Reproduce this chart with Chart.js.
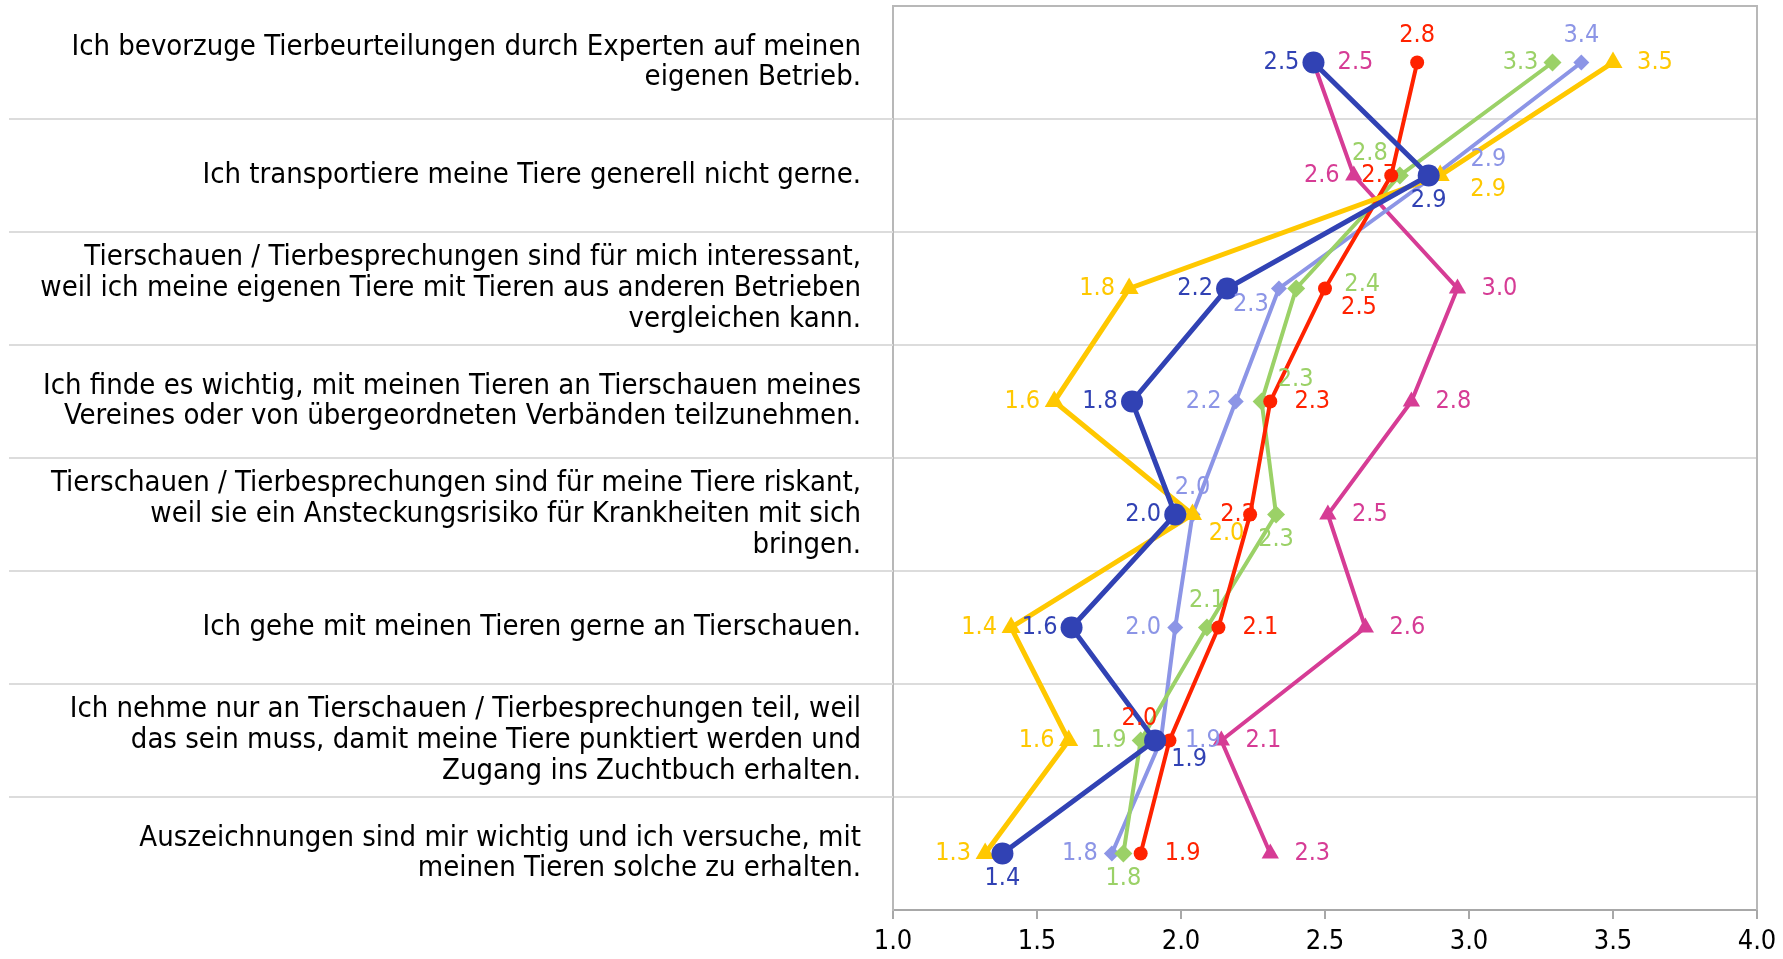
<!DOCTYPE html>
<html>
<head>
<meta charset="utf-8">
<script src="https://cdn.jsdelivr.net/npm/chart.js@4.4.1/dist/chart.umd.min.js"></script>
<style>
  html, body { margin: 0; padding: 0; background: #fff; }
  #wrap { width: 1783px; height: 959px; position: relative; }
</style>
</head>
<body>
<div id="wrap"><canvas id="chart"></canvas></div>
<script>
// statements (one row each, top to bottom)
const categories = [
    ['Ich bevorzuge Tierbeurteilungen durch Experten auf meinen', 'eigenen Betrieb.'],
    ['Ich transportiere meine Tiere generell nicht gerne.'],
    ['Tierschauen / Tierbesprechungen sind für mich interessant,', 'weil ich meine eigenen Tiere mit Tieren aus anderen Betrieben', 'vergleichen kann.'],
    ['Ich finde es wichtig, mit meinen Tieren an Tierschauen meines', 'Vereines oder von übergeordneten Verbänden teilzunehmen.'],
    ['Tierschauen / Tierbesprechungen sind für meine Tiere riskant,', 'weil sie ein Ansteckungsrisiko für Krankheiten mit sich', 'bringen.'],
    ['Ich gehe mit meinen Tieren gerne an Tierschauen.'],
    ['Ich nehme nur an Tierschauen / Tierbesprechungen teil, weil', 'das sein muss, damit meine Tiere punktiert werden und', 'Zugang ins Zuchtbuch erhalten.'],
    ['Auszeichnungen sind mir wichtig und ich versuche, mit', 'meinen Tieren solche zu erhalten.']
];

// mean scores per group
const blueValues     = [2.46, 2.86, 2.16, 1.83, 1.98, 1.62, 1.91, 1.38];
const yellowValues   = [3.50, 2.90, 1.82, 1.56, 2.04, 1.41, 1.61, 1.32];
const redValues      = [2.82, 2.73, 2.50, 2.31, 2.24, 2.13, 1.96, 1.86];
const greenValues    = [3.29, 2.76, 2.40, 2.28, 2.33, 2.09, 1.86, 1.80];
const lavenderValues = [3.39, 2.88, 2.34, 2.19, 2.04, 1.98, 1.93, 1.76];
const magentaValues  = [2.46, 2.60, 2.96, 2.80, 2.51, 2.64, 2.14, 2.31];

// x axis ticks
const xTicks = [1.0, 1.5, 2.0, 2.5, 3.0, 3.5, 4.0];

// where each value label sits relative to its point
const blueLabelPos     = ['W', 'S', 'W', 'W', 'W', 'W', 'SE', 'S'];
const yellowLabelPos   = ['E', 'ESE', 'W', 'W', 'SE', 'W', 'W', 'W'];
const redLabelPos      = ['N', 'w', 'SE', 'E', 'w', 'E', 'NW', 'E'];
const greenLabelPos    = ['W', 'NW', 'EE', 'NE', 'S', 'N', 'W', 'S'];
const lavenderLabelPos = ['N', 'ENE', 'SW', 'W', 'N', 'W', 'E', 'W'];
const magentaLabelPos  = ['E', 'W', 'E', 'E', 'E', 'E', 'E', 'E'];

const FONT = "'DejaVu Sans Condensed', 'DejaVu Sans', sans-serif";

const labelOffsets = {
    E: [42, 0], W: [-32, 0], N: [0, -27], S: [0, 25],
    NE: [34, -22], NW: [-30, -22], SE: [34, 19], SW: [-28, 16],
    ENE: [54, -16], ESE: [48, 14], EE: [66, -4], w: [-12, 0]
};

function series(values, color, style, radius, width, labelPos) {
    return {
        data: values,
        borderColor: color,
        backgroundColor: color,
        borderWidth: width,
        pointStyle: style,
        pointRadius: radius,
        pointBorderWidth: 0,
        pointBackgroundColor: color,
        tension: 0,
        labelPos: labelPos
    };
}

// draw the value labels next to the points
const valueLabels = {
    id: 'valueLabels',
    afterDatasetsDraw(chart) {
        const ctx = chart.ctx;
        ctx.save();
        ctx.font = '25px ' + FONT;
        ctx.textAlign = 'center';
        ctx.textBaseline = 'middle';
        chart.data.datasets.forEach((ds, i) => {
            const meta = chart.getDatasetMeta(i);
            meta.data.forEach((pt, j) => {
                const off = labelOffsets[ds.labelPos[j]];
                ctx.fillStyle = ds.borderColor;
                ctx.fillText(ds.data[j].toFixed(1), pt.x + off[0], pt.y + off[1]);
            });
        });
        ctx.restore();
    }
};

// frame around plot and row separators running into the label column
const frameAndRows = {
    id: 'frameAndRows',
    beforeDatasetsDraw(chart) {
        const ctx = chart.ctx;
        const area = chart.chartArea;
        const y = chart.scales.y;
        ctx.save();
        ctx.strokeStyle = '#dcdcdc';
        ctx.lineWidth = 2;
        for (let i = 0; i < categories.length - 1; i++) {
            const py = Math.round((y.getPixelForTick(i) + y.getPixelForTick(i + 1)) / 2);
            ctx.beginPath();
            ctx.moveTo(9, py);
            ctx.lineTo(area.left, py);
            ctx.stroke();
        }
        ctx.strokeStyle = '#b8b8b8';
        ctx.beginPath();
        ctx.moveTo(area.left, area.top);
        ctx.lineTo(area.right, area.top);
        ctx.lineTo(area.right, area.bottom);
        ctx.stroke();
        ctx.restore();
    }
};

const config = {
    type: 'line',
    data: {
        labels: categories,
        datasets: [
            series(blueValues, '#3142B4', 'circle', 11, 5, blueLabelPos),
            series(yellowValues, '#FFC800', 'triangle', 11, 5, yellowLabelPos),
            series(redValues, '#FF2200', 'circle', 7, 4, redLabelPos),
            series(greenValues, '#9BD167', 'rectRot', 9, 4, greenLabelPos),
            series(lavenderValues, '#8C95E6', 'rectRot', 8, 4, lavenderLabelPos),
            series(magentaValues, '#D63C95', 'triangle', 10, 4, magentaLabelPos)
        ]
    },
    options: {
        indexAxis: 'y',
        responsive: true,
        maintainAspectRatio: false,
        animation: false,
        layout: { autoPadding: false, padding: { left: 0, top: 6, right: 26, bottom: 0 } },
        plugins: {
            legend: { display: false },
            tooltip: { enabled: false }
        },
        scales: {
            x: {
                type: 'linear',
                min: 1,
                max: 4,
                afterBuildTicks: function (scale) {
                    scale.ticks = xTicks.map(v => ({ value: v }));
                },
                afterFit: function (scale) {
                    scale.height = 49;
                    scale.paddingLeft = 0;
                    scale.paddingRight = 0;
                },
                grid: {
                    drawOnChartArea: false,
                    drawTicks: true,
                    tickLength: 9,
                    color: '#a8a8a8',
                    lineWidth: 2
                },
                border: { color: '#a8a8a8', width: 2 },
                ticks: {
                    color: '#000',
                    padding: 7,
                    font: { family: FONT, size: 27 },
                    callback: v => Number(v).toFixed(1)
                }
            },
            y: {
                type: 'category',
                offset: true,
                afterFit: function (scale) {
                    scale.width = 893;
                    scale.paddingTop = 0;
                    scale.paddingBottom = 0;
                },
                grid: {
                    offset: true,
                    drawTicks: false,
                    color: '#dcdcdc',
                    lineWidth: 2
                },
                border: { color: '#b8b8b8', width: 2 },
                ticks: {
                    color: '#000',
                    padding: 32,
                    font: { family: FONT, size: 29, lineHeight: 1.06 }
                }
            }
        }
    },
    plugins: [frameAndRows, valueLabels]
};

new Chart(document.getElementById('chart'), config);
</script>
</body>
</html>
